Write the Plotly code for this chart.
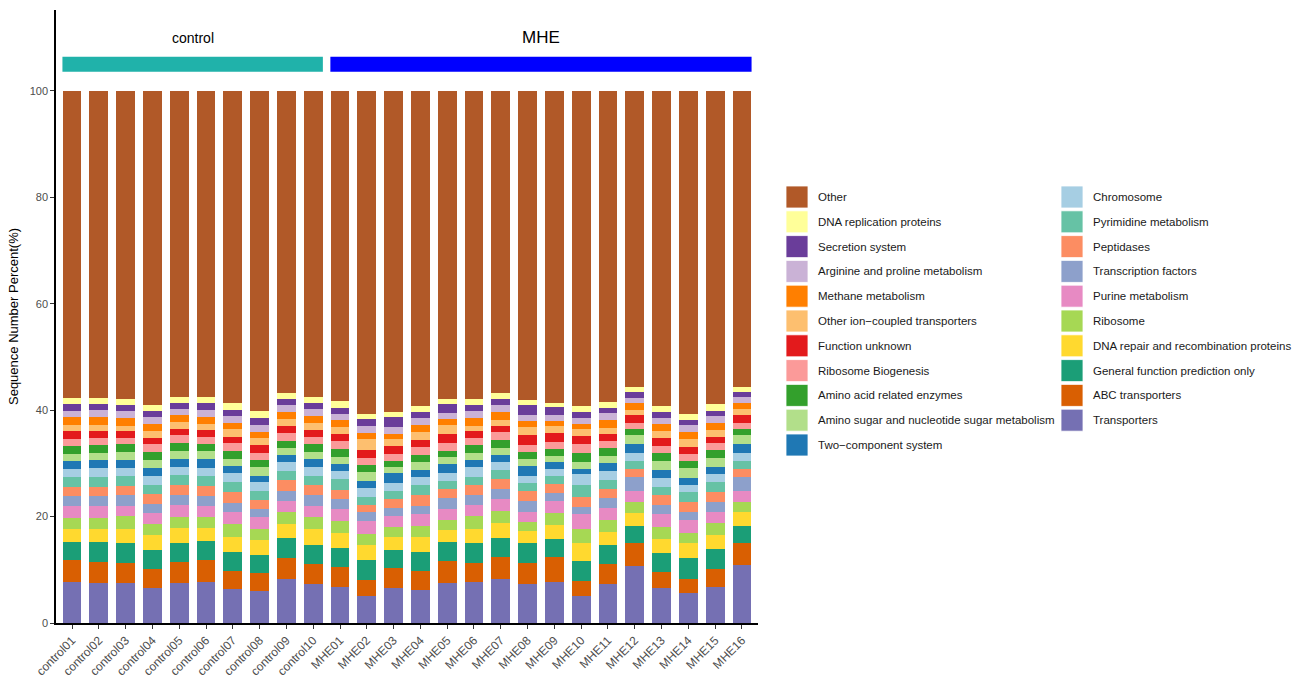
import plotly.graph_objects as go

# ---- samples -------------------------------------------------------------
samples = ["control01", "control02", "control03", "control04", "control05",
           "control06", "control07", "control08", "control09", "control10",
           "MHE01", "MHE02", "MHE03", "MHE04", "MHE05", "MHE06", "MHE07",
           "MHE08", "MHE09", "MHE10", "MHE11", "MHE12", "MHE13", "MHE14",
           "MHE15", "MHE16"]
groups = [("control", 0, 9, "#20B2AA", 14), ("MHE", 10, 25, "#0000FF", 17)]

# ---- relative abundance (%) per KEGG function, stacked bottom -> top ----
transporters = [7.75, 7.6, 7.45, 6.6, 7.6, 7.75, 6.45, 5.95, 8.2, 7.25,
                6.85, 5.15, 6.5, 6.25, 7.6, 7.65, 8.25, 7.35, 7.75, 5.15, 7.35, 10.7, 6.5, 5.6, 6.85, 10.9]
abc_transporters = [4.0, 3.9, 3.8, 3.55, 3.85, 4.1, 3.25, 3.4, 4.1, 3.75,
                    3.6, 2.85, 3.8, 3.45, 4.1, 3.7, 4.1, 4.0, 4.7, 2.8, 3.65, 4.25, 3.0, 2.65, 3.35, 4.05]
general_function = [3.55, 3.65, 3.7, 3.55, 3.65, 3.5, 3.6, 3.35, 3.6, 3.65,
                    3.6, 3.85, 3.4, 3.65, 3.45, 3.65, 3.65, 3.65, 3.4, 3.7, 3.65, 3.35, 3.6, 3.9, 3.65, 3.35]
dna_repair = [2.45, 2.55, 2.65, 2.75, 2.7, 2.5, 2.8, 2.9, 2.65, 3.0,
              2.85, 2.85, 2.5, 2.75, 2.4, 2.65, 2.75, 2.35, 2.55, 3.3, 2.5, 2.45, 2.7, 2.8, 2.7, 2.6]
ribosome = [2.05, 2.1, 2.5, 2.1, 2.2, 2.15, 2.55, 2.1, 2.3, 2.25,
            2.25, 2.0, 1.9, 2.15, 1.8, 2.45, 2.3, 1.7, 2.35, 2.75, 2.2, 1.95, 2.2, 1.9, 2.2, 1.9]
purine = [2.1, 2.1, 1.95, 2.2, 2.2, 2.05, 2.25, 2.15, 2.1, 2.15,
          2.25, 2.4, 2.1, 2.25, 2.15, 2.15, 2.25, 1.8, 2.25, 2.7, 2.2, 2.1, 2.4, 2.5, 2.15, 2.05]
transcription_factors = [1.95, 2.0, 1.95, 1.7, 1.85, 1.85, 1.7, 1.55, 1.95, 2.0,
                         1.9, 1.7, 1.5, 1.55, 1.95, 1.85, 1.9, 2.15, 1.5, 1.4, 1.95, 2.6, 1.7, 1.45, 1.9, 2.55]
peptidases = [1.8, 1.75, 1.75, 1.75, 1.95, 1.85, 2.0, 1.7, 2.0, 1.85,
              1.7, 1.45, 1.65, 1.95, 1.75, 1.8, 1.85, 1.8, 1.6, 1.95, 1.75, 1.5, 1.9, 1.95, 1.9, 1.5]
pyrimidine = [1.75, 1.8, 1.85, 1.8, 1.8, 1.8, 1.9, 1.7, 1.75, 1.8,
              2.0, 1.5, 1.45, 1.9, 1.55, 1.6, 1.7, 1.45, 1.55, 2.2, 1.65, 1.55, 1.6, 1.85, 1.85, 1.55]
chromosome = [1.55, 1.6, 1.55, 1.65, 1.6, 1.65, 1.75, 1.65, 1.55, 1.55,
              1.55, 1.55, 1.45, 1.5, 1.4, 1.75, 1.45, 1.3, 1.3, 2.05, 1.6, 1.45, 1.7, 1.4, 1.4, 1.45]
two_component = [1.5, 1.55, 1.55, 1.5, 1.5, 1.55, 1.25, 1.2, 1.4, 1.5,
                 1.25, 1.35, 1.85, 1.35, 1.8, 1.35, 1.4, 2.0, 1.35, 0.9, 1.5, 1.7, 1.45, 1.2, 1.45, 1.7]
amino_sugar = [1.3, 1.35, 1.35, 1.4, 1.5, 1.5, 1.4, 1.6, 1.25, 1.45,
               1.4, 1.65, 1.15, 1.45, 1.2, 1.35, 1.35, 1.35, 1.15, 1.4, 1.4, 1.75, 1.7, 1.85, 1.55, 1.75]
amino_acid_enzymes = [1.5, 1.5, 1.5, 1.6, 1.45, 1.45, 1.5, 1.4, 1.35, 1.4,
                      1.5, 1.45, 1.25, 1.4, 1.25, 1.55, 1.4, 1.25, 1.25, 1.7, 1.45, 1.05, 1.45, 1.45, 1.55, 1.05]
ribosome_biogenesis = [1.25, 1.4, 1.25, 1.4, 1.45, 1.3, 1.4, 1.35, 1.45, 1.35,
                       1.5, 1.25, 1.25, 1.4, 1.4, 1.35, 1.5, 1.25, 1.3, 1.65, 1.4, 1.25, 1.45, 1.25, 1.25, 1.25]
function_unknown = [1.5, 1.25, 1.2, 1.2, 1.15, 1.3, 1.2, 1.4, 1.4, 1.35,
                    1.3, 1.6, 1.55, 1.4, 1.7, 1.15, 1.25, 1.85, 1.65, 1.5, 1.25, 1.45, 1.5, 1.4, 1.25, 1.45]
other_ion_coupled = [1.2, 1.15, 1.1, 1.3, 1.25, 1.15, 1.4, 1.4, 1.25, 1.2,
                     1.3, 1.9, 1.2, 1.55, 1.65, 1.1, 1.1, 1.65, 1.4, 1.25, 1.2, 0.95, 1.25, 1.5, 1.3, 1.05]
methane = [1.45, 1.4, 1.4, 1.35, 1.3, 1.35, 1.25, 1.15, 1.35, 1.4,
           1.3, 1.3, 1.1, 1.25, 1.15, 1.35, 1.45, 1.05, 1.0, 1.05, 1.45, 1.25, 1.25, 1.3, 1.35, 1.15]
arginine_proline = [1.25, 1.3, 1.3, 1.35, 1.3, 1.25, 1.2, 1.25, 1.25, 1.25,
                    1.2, 1.25, 1.2, 1.25, 1.25, 1.35, 1.35, 1.2, 1.05, 1.0, 1.25, 0.95, 1.1, 1.25, 1.25, 1.1]
secretion = [1.3, 1.2, 1.25, 1.05, 1.05, 1.25, 1.2, 1.4, 1.15, 1.15,
             1.05, 1.25, 1.85, 1.15, 1.6, 1.25, 1.1, 1.9, 1.45, 1.15, 1.05, 1.25, 1.25, 0.95, 0.9, 1.1]
dna_replication = [1.05, 1.1, 1.0, 1.15, 1.15, 1.1, 1.25, 1.3, 1.15, 1.1,
                   1.35, 1.05, 0.95, 1.2, 0.95, 1.05, 1.15, 0.85, 0.85, 1.2, 1.15, 0.9, 1.15, 1.15, 1.3, 0.9]
other = [57.75, 57.75, 57.95, 59.0, 57.5, 57.6, 58.7, 60.1, 56.8, 57.6,
         58.3, 60.65, 60.4, 59.2, 57.9, 57.9, 56.75, 58.1, 58.6, 59.2, 58.4, 55.6, 59.15, 60.7, 58.9, 55.6]

# (label, values, colour) in stacking order, bottom first
series = [
    ("Transporters", transporters, "#7570B3"),
    ("ABC transporters", abc_transporters, "#D95F02"),
    ("General function prediction only", general_function, "#1B9E77"),
    ("DNA repair and recombination proteins", dna_repair, "#FFD92F"),
    ("Ribosome", ribosome, "#A6D854"),
    ("Purine metabolism", purine, "#E78AC3"),
    ("Transcription factors", transcription_factors, "#8DA0CB"),
    ("Peptidases", peptidases, "#FC8D62"),
    ("Pyrimidine metabolism", pyrimidine, "#66C2A5"),
    ("Chromosome", chromosome, "#A6CEE3"),
    ("Two\u2212component system", two_component, "#1F78B4"),
    ("Amino sugar and nucleotide sugar metabolism", amino_sugar, "#B2DF8A"),
    ("Amino acid related enzymes", amino_acid_enzymes, "#33A02C"),
    ("Ribosome Biogenesis", ribosome_biogenesis, "#FB9A99"),
    ("Function unknown", function_unknown, "#E31A1C"),
    ("Other ion\u2212coupled transporters", other_ion_coupled, "#FDBF6F"),
    ("Methane metabolism", methane, "#FF7F00"),
    ("Arginine and proline metabolism", arginine_proline, "#CAB2D6"),
    ("Secretion system", secretion, "#6A3D9A"),
    ("DNA replication proteins", dna_replication, "#FFFF99"),
    ("Other", other, "#B15928"),
]

FONT = "Liberation Sans, Arial, sans-serif"
W, H = 1292, 678
ML, MR, MT, MB = 56, 534, 10, 55

fig = go.Figure()
for name, vals, col in series:
    fig.add_trace(go.Bar(x=samples, y=vals, name=name, marker_color=col,
                         marker_line_width=0, showlegend=False))

# group header bands above the bars
for label, i0, i1, col, fs in groups:
    fig.add_shape(type="rect", xref="x", yref="y", x0=i0 - 0.36, x1=i1 + 0.36,
                  y0=103.6, y1=106.4, fillcolor=col, line_width=0, layer="above")
    fig.add_annotation(x=(i0 + i1) / 2, y=110.0, xref="x", yref="y", text=label,
                       showarrow=False, font=dict(family=FONT, size=fs, color="black"))


# two-column legend drawn with boxes and labels
def px_x(px):
    return (px - ML) / (W - ML - MR)


def px_y(py):
    return (H - MB - py) / (H - MT - MB)


legend_cols = [(786, list(reversed(series))[:11]), (1061, list(reversed(series))[11:])]
top, step, sw = 186, 24.8, 22
for x0, items in legend_cols:
    for k, (name, _, col) in enumerate(items):
        y0 = top + k * step
        fig.add_shape(type="rect", xref="paper", yref="paper",
                      x0=px_x(x0), x1=px_x(x0 + sw), y0=px_y(y0 + sw), y1=px_y(y0),
                      fillcolor=col, line=dict(color="white", width=0.8))
        fig.add_annotation(xref="paper", yref="paper", x=px_x(x0 + sw + 8),
                           y=px_y(y0 + sw / 2), text=name, showarrow=False,
                           xanchor="left", yanchor="middle",
                           font=dict(family=FONT, size=11.5, color="#1a1a1a"))

fig.update_layout(
    barmode="stack", bargap=0.3,
    width=W, height=H,
    margin=dict(l=ML, r=MR, t=MT, b=MB, autoexpand=False),
    plot_bgcolor="white", paper_bgcolor="white",
    font=dict(family=FONT),
    xaxis=dict(range=[-0.6, 25.6], showline=True, linecolor="black", linewidth=1.5,
               ticks="outside", ticklen=4, tickcolor="#333333", tickangle=-45,
               automargin=False,
               tickfont=dict(family=FONT, size=12, color="#4D4D4D"), showgrid=False,
               zeroline=False),
    yaxis=dict(range=[0, 115.2], showline=True, linecolor="black", linewidth=1.5,
               ticks="outside", ticklen=4, tickcolor="#333333",
               tickvals=[0, 20, 40, 60, 80, 100], automargin=False,
               tickfont=dict(family=FONT, size=11, color="#4D4D4D"), showgrid=False,
               zeroline=False,
               title=dict(text="Sequence Number Percent(%)", standoff=8,
                          font=dict(family=FONT, size=13, color="black"))),
)

fig.write_html("out.html")
